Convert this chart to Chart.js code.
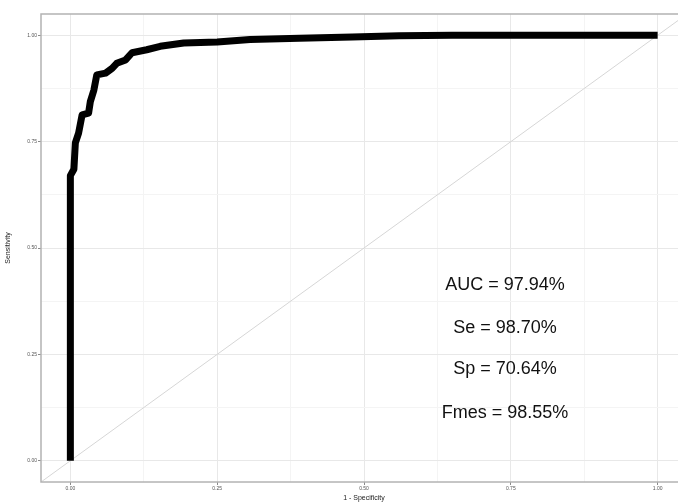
<!DOCTYPE html>
<html>
<head>
<meta charset="utf-8">
<script src="https://cdn.jsdelivr.net/npm/chart.js@4.4.1/dist/chart.umd.min.js"></script>
<style>
  html, body { margin: 0; padding: 0; background: #fff; overflow: hidden; }
  #wrap { position: relative; width: 700px; height: 502px; }
</style>
</head>
<body>
<div id="wrap"><canvas id="c" width="700" height="502"></canvas></div>
<script>
// ---- data ----
const fpr = [0, 0, 0.006, 0.0085, 0.014, 0.02, 0.031, 0.034, 0.04, 0.045, 0.06, 0.071, 0.079, 0.094, 0.105, 0.13, 0.153, 0.193, 0.25, 0.306, 0.39, 0.48, 0.56, 0.65, 0.8, 1.0];
const tpr = [0, 0.67, 0.685, 0.747, 0.77, 0.813, 0.817, 0.844, 0.871, 0.907, 0.911, 0.922, 0.934, 0.942, 0.959, 0.966, 0.974, 0.982, 0.984, 0.99, 0.993, 0.996, 0.999, 1.0, 1.0, 1.0];
const tickValues = [0, 0.125, 0.25, 0.375, 0.5, 0.625, 0.75, 0.875, 1];
const tickLabels = ['0.00', '', '0.25', '', '0.50', '', '0.75', '', '1.00'];
const statLabels = ['AUC = 97.94%', 'Se = 98.70%', 'Sp = 70.64%', 'Fmes = 98.55%'];
const statX = 0.74;
const statY = [0.413, 0.311, 0.215, 0.112];
const diagX = [-0.05, 1.05];

const rocPoints = fpr.map((v, i) => ({ x: v, y: tpr[i] }));
const diagPoints = diagX.map(v => ({ x: v, y: v }));

const isMajor = v => tickLabels[tickValues.indexOf(v)] !== '' ;

function gridColor(ctx) {
  const v = ctx.tick ? ctx.tick.value : null;
  return isMajor(v) ? '#e8e8e8' : '#f4f4f4';
}
function tickColor(ctx) {
  const v = ctx.tick ? ctx.tick.value : null;
  return isMajor(v) ? '#8a8a8a' : 'rgba(0,0,0,0)';
}

const panelPlugin = {
  id: 'panel',
  afterDatasetsDraw(chart) {
    const { ctx, chartArea: a, scales } = chart;
    ctx.save();
    ctx.fillStyle = '#111111';
    ctx.font = '18px "Liberation Sans", Arial, sans-serif';
    ctx.textAlign = 'center';
    ctx.textBaseline = 'middle';
    statLabels.forEach((t, i) => {
      ctx.fillText(t, scales.x.getPixelForValue(statX), scales.y.getPixelForValue(statY[i]));
    });
    ctx.strokeStyle = '#b3b3b3';
    ctx.lineWidth = 1.5;
    ctx.strokeRect(a.left, a.top, a.right - a.left, a.bottom - a.top);
    ctx.restore();
  }
};

const tickFont = { family: '"Liberation Sans", Arial, sans-serif', size: 5 };
const titleFont = { family: '"Liberation Sans", Arial, sans-serif', size: 7 };

new Chart(document.getElementById('c'), {
  type: 'scatter',
  data: {
    datasets: [
      {
        data: rocPoints,
        showLine: true,
        borderColor: '#000000',
        borderWidth: 7,
        borderJoinStyle: 'round',
        borderCapStyle: 'butt',
        pointRadius: 0,
        order: 1
      },
      {
        data: diagPoints,
        showLine: true,
        borderColor: '#d6d6d6',
        borderWidth: 1,
        pointRadius: 0,
        order: 2
      }
    ]
  },
  options: {
    responsive: false,
    animation: false,
    devicePixelRatio: 1,
    layout: { padding: { top: 14, right: 13, left: 0, bottom: 0 } },
    plugins: { legend: { display: false }, tooltip: { enabled: false } },
    scales: {
      x: {
        type: 'linear',
        min: -0.05,
        max: 1.05,
        afterBuildTicks: s => { s.ticks = tickValues.map(v => ({ value: v })); },
        afterFit: s => { s.height = 20; },
        grid: { color: gridColor, lineWidth: 1, tickLength: 3, tickColor: tickColor },
        border: { display: false },
        ticks: {
          autoSkip: false, maxRotation: 0, padding: 1,
          color: '#555555', font: tickFont,
          callback: v => tickLabels[tickValues.indexOf(v)] ?? ''
        },
        title: { display: true, text: '1 - Specificity', color: '#222', font: titleFont, padding: 0 }
      },
      y: {
        type: 'linear',
        min: -0.05,
        max: 1.05,
        afterBuildTicks: s => { s.ticks = tickValues.map(v => ({ value: v })); },
        afterFit: s => { s.width = 41; },
        grid: { color: gridColor, lineWidth: 1, tickLength: 3, tickColor: tickColor },
        border: { display: false },
        ticks: {
          autoSkip: false, padding: 1,
          color: '#555555', font: tickFont,
          callback: v => tickLabels[tickValues.indexOf(v)] ?? ''
        },
        title: { display: true, text: 'Sensitivity', color: '#222', font: titleFont, padding: { top: 4, bottom: 0 } }
      }
    }
  },
  plugins: [panelPlugin]
});
</script>
</body>
</html>
